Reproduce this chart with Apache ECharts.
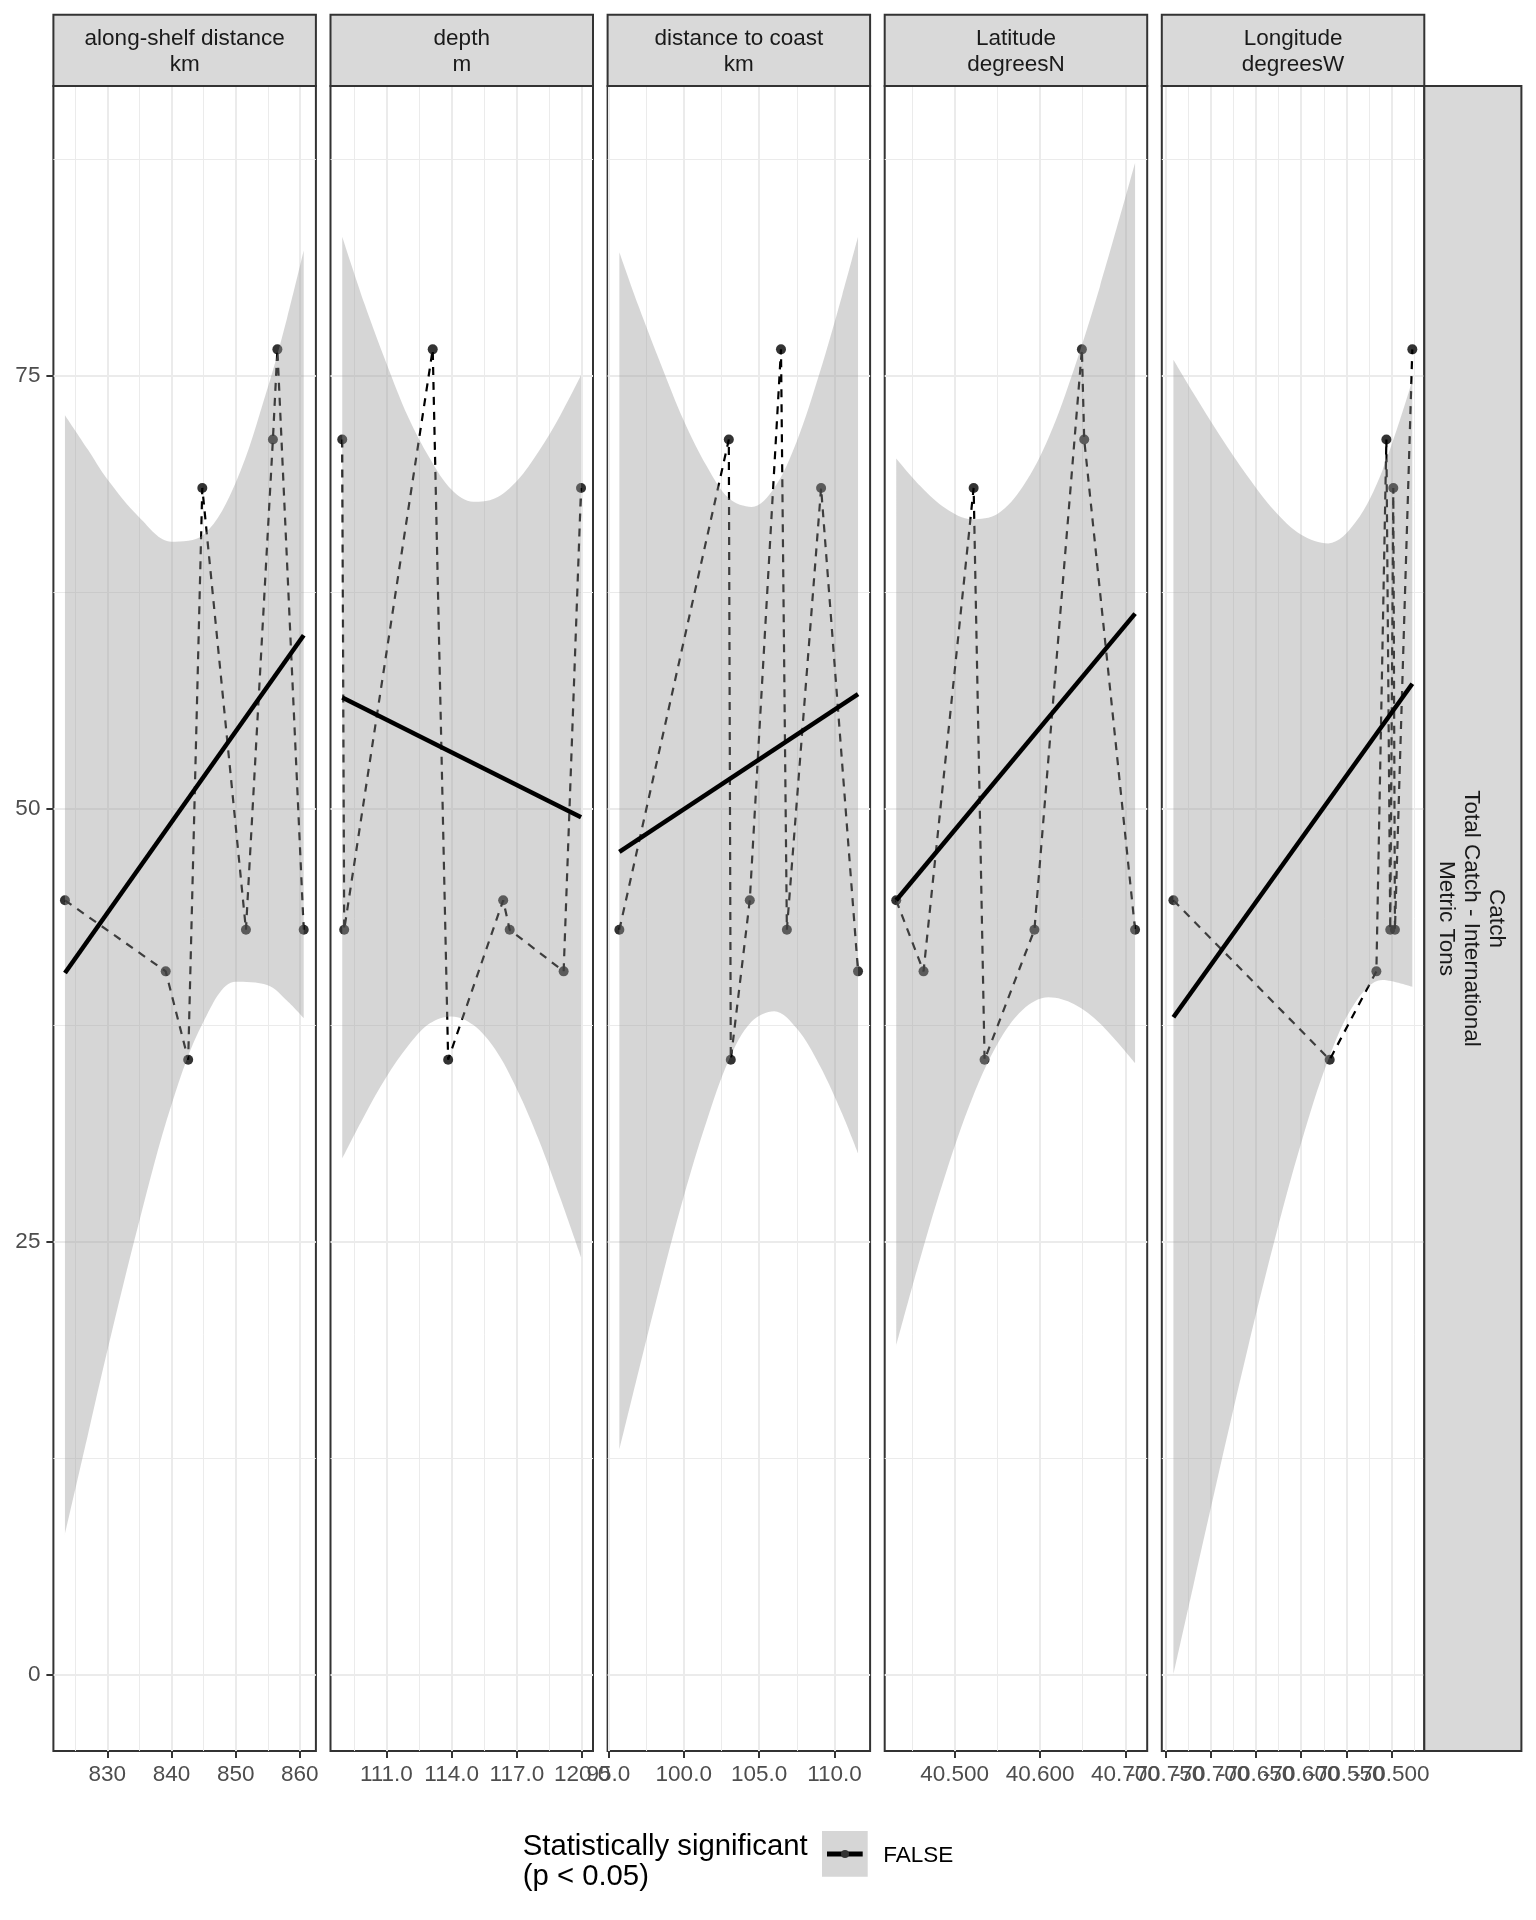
<!DOCTYPE html>
<html>
<head>
<meta charset="utf-8">
<script src="https://cdn.jsdelivr.net/npm/echarts@6/dist/echarts.min.js"></script>
<style>
html,body{margin:0;padding:0;background:#ffffff;}
#chart{width:1536px;height:1920px;}
</style>
</head>
<body>
<div id="chart"></div>
<script>
// ---------------- DATA ----------------
// Catch (metric tons) for each of the 8 observations
const catchTons    = [44.7, 40.6, 35.5, 68.5, 43.0, 71.3, 76.5, 43.0];
// Covariate values for the same observations
const alongShelfKm = [823.4, 839.1, 842.6, 844.8, 851.6, 855.8, 856.5, 860.6];
const depthM       = [116.37, 119.15, 113.84, 119.95, 109.06, 108.97, 113.13, 116.67];
const distCoastKm  = [104.38, 111.56, 103.12, 109.11, 95.73, 102.99, 106.45, 106.84];
const latitudeN    = [40.4315, 40.4635, 40.535, 40.5222, 40.5934, 40.6517, 40.649, 40.7113];
const longitudeW   = [-70.7419, -70.5166, -70.5684, -70.4978, -70.5012, -70.5055, -70.4767, -70.4960];

// Facet strip labels
const facetTitles = ['along-shelf distance\nkm', 'depth\nm', 'distance to coast\nkm', 'Latitude\ndegreesN', 'Longitude\ndegreesW'];
const rowStripLabel = 'Catch\nTotal Catch - International\nMetric Tons';
const legendTitle = 'Statistically significant\n(p < 0.05)';
const legendLabel = 'FALSE';

// Fitted linear trend (end points)
const fitAlong = [[823.4, 40.5], [860.6, 60.0]];
const fitDepth = [[108.97, 56.4], [119.95, 49.5]];
const fitDist  = [[95.73, 47.5], [111.56, 56.6]];
const fitLat   = [[40.4315, 44.7], [40.7113, 61.25]];
const fitLon   = [[-70.7419, 37.95], [-70.4767, 57.2]];

// Confidence ribbons (x, lower, upper)
const ribAlongX  = [823.4, 827, 830, 835, 840, 845, 850, 855, 858, 860.6];
const ribAlongLo = [8.1, 13.9, 18.7, 26.2, 32.9, 37.7, 40.0, 39.8, 38.9, 37.9];
const ribAlongHi = [72.7, 70.7, 69.0, 66.8, 65.4, 65.8, 68.8, 74.3, 78.3, 82.2];

const ribDepthX  = [108.97, 110, 111, 112, 113, 114, 115, 116, 117, 118, 119, 119.95];
const ribDepthLo = [29.8, 32.3, 34.5, 36.3, 37.6, 38.0, 37.5, 36.1, 33.8, 30.9, 27.5, 24.1];
const ribDepthHi = [83.0, 79.1, 75.7, 72.6, 70.2, 68.4, 67.7, 67.9, 68.9, 70.6, 72.7, 75.0];

const ribDistX  = [95.73, 97, 98.5, 100, 101.5, 103, 104.5, 106, 107.5, 109, 110.5, 111.56];
const ribDistLo = [13.0, 17.5, 22.7, 27.6, 31.9, 35.5, 37.7, 38.3, 37.3, 35.2, 32.4, 30.1];
const ribDistHi = [82.1, 79.0, 75.6, 72.4, 69.8, 67.9, 67.4, 68.5, 71.2, 75.1, 79.6, 83.0];

const ribLatX  = [40.4315, 40.46, 40.49, 40.52, 40.55, 40.58, 40.61, 40.64, 40.67, 40.7113];
const ribLatLo = [19.0, 24.1, 29.0, 33.2, 36.4, 38.4, 39.1, 38.7, 37.6, 35.3];
const ribLatHi = [70.2, 68.6, 67.3, 66.7, 67.0, 68.6, 71.4, 75.4, 80.1, 87.25];

const ribLonX  = [-70.7419, -70.72, -70.69, -70.66, -70.63, -70.6, -70.57, -70.54, -70.51, -70.4767];
const ribLonLo = [0.0, 5.1, 12.0, 18.7, 25.0, 30.7, 35.5, 38.8, 40.1, 39.7];
const ribLonHi = [75.9, 74.0, 71.5, 69.2, 67.2, 65.8, 65.3, 66.5, 69.5, 74.7];

// Ticks and tick labels
const yTicks = [0, 25, 50, 75];
const yTickLabels = ['0', '25', '50', '75'];
const yMinor = [12.5, 37.5, 62.5, 87.5];

const alongTicks = [830, 840, 850, 860];
const alongTickLabels = ['830', '840', '850', '860'];
const alongMinor = [825, 835, 845, 855];

const depthTicks = [111, 114, 117, 120];
const depthTickLabels = ['111.0', '114.0', '117.0', '120.0'];
const depthMinor = [109.5, 112.5, 115.5, 118.5];

const distTicks = [95, 100, 105, 110];
const distTickLabels = ['95.0', '100.0', '105.0', '110.0'];
const distMinor = [97.5, 102.5, 107.5];

const latTicks = [40.5, 40.6, 40.7];
const latTickLabels = ['40.500', '40.600', '40.700'];
const latMinor = [40.45, 40.55, 40.65];

const lonTicks = [-70.75, -70.7, -70.65, -70.6, -70.55, -70.5];
const lonTickLabels = ['-70.750', '-70.700', '-70.650', '-70.600', '-70.550', '-70.500'];
const lonMinor = [-70.725, -70.675, -70.625, -70.575, -70.525, -70.475];

// ---------------- LAYOUT / STYLE ----------------
const FONT = '"Liberation Sans", Arial, Helvetica, sans-serif';
const panelLeft = [53.4, 330.5, 607.6, 884.7, 1161.8];
const panelW = 262.5;
const panelTop = 86;
const panelH = 1665;
const stripTop = 14.7;
const yMin = -4.4, yMax = 91.7;
const xRanges = [[821.6, 862.5], [108.43, 120.5], [94.95, 112.36], [40.418, 40.7255], [-70.7548, -70.4634]];

const panels = [
  { x: alongShelfKm, fit: fitAlong, rx: ribAlongX, lo: ribAlongLo, hi: ribAlongHi, ticks: alongTicks, labels: alongTickLabels, minor: alongMinor },
  { x: depthM,       fit: fitDepth, rx: ribDepthX, lo: ribDepthLo, hi: ribDepthHi, ticks: depthTicks, labels: depthTickLabels, minor: depthMinor },
  { x: distCoastKm,  fit: fitDist,  rx: ribDistX,  lo: ribDistLo,  hi: ribDistHi,  ticks: distTicks,  labels: distTickLabels,  minor: distMinor },
  { x: latitudeN,    fit: fitLat,   rx: ribLatX,   lo: ribLatLo,   hi: ribLatHi,   ticks: latTicks,   labels: latTickLabels,   minor: latMinor },
  { x: longitudeW,   fit: fitLon,   rx: ribLonX,   lo: ribLonLo,   hi: ribLonHi,   ticks: lonTicks,   labels: lonTickLabels,   minor: lonMinor }
];

function labelFor(ticks, labels, v) {
  let best = 0, bd = Infinity;
  for (let k = 0; k < ticks.length; k++) {
    const d = Math.abs(ticks[k] - v);
    if (d < bd) { bd = d; best = k; }
  }
  return labels[best];
}

const grids = [], xAxes = [], yAxes = [], series = [];
const labelStyle = { color: '#4D4D4D', fontSize: 22.5, fontFamily: FONT };

panels.forEach((p, i) => {
  grids.push({
    left: panelLeft[i], top: panelTop, width: panelW, height: panelH,
    show: true, borderColor: '#333333', borderWidth: 2, backgroundColor: 'transparent',
    containLabel: false, outerBoundsMode: 'none'
  });
  const evenTicks = p.ticks.filter((t, k) => k % 2 === 0);
  const oddTicks = p.ticks.filter((t, k) => k % 2 === 1);
  const xBase = xAxes.length;
  // major x axis: ticks, grid lines, labels of even-indexed ticks
  xAxes.push({
    type: 'value', gridIndex: i, min: xRanges[i][0], max: xRanges[i][1], position: 'bottom',
    axisLine: { show: false, onZero: false },
    axisTick: { show: true, length: 7, lineStyle: { color: '#333333', width: 2 }, customValues: p.ticks },
    axisLabel: Object.assign({
      show: true, customValues: evenTicks, margin: 12, hideOverlap: false,
      formatter: (v) => labelFor(p.ticks, p.labels, v)
    }, labelStyle),
    splitLine: { show: true, lineStyle: { color: '#EBEBEB', width: 2 } }
  });
  // second bottom axis: labels of odd-indexed ticks (so overlapping labels are all kept)
  xAxes.push({
    type: 'value', gridIndex: i, min: xRanges[i][0], max: xRanges[i][1], position: 'bottom', offset: 0,
    axisLine: { show: false, onZero: false },
    axisTick: { show: false, customValues: oddTicks.length ? oddTicks : evenTicks },
    axisLabel: Object.assign({
      show: oddTicks.length > 0, customValues: oddTicks.length ? oddTicks : evenTicks, margin: 12, hideOverlap: false,
      formatter: (v) => labelFor(p.ticks, p.labels, v)
    }, labelStyle),
    splitLine: { show: false }
  });
  // minor x axis (grid lines only)
  xAxes.push({
    type: 'value', gridIndex: i, min: xRanges[i][0], max: xRanges[i][1], position: 'top',
    axisLine: { show: false, onZero: false },
    axisTick: { show: false, customValues: p.minor },
    axisLabel: { show: false, customValues: p.minor },
    splitLine: { show: true, lineStyle: { color: '#EBEBEB', width: 1 } }
  });
  const yBase = yAxes.length;
  // major y axis
  yAxes.push({
    type: 'value', gridIndex: i, min: yMin, max: yMax, position: 'left',
    axisLine: { show: false, onZero: false },
    axisTick: { show: i === 0, length: 7, lineStyle: { color: '#333333', width: 2 }, customValues: yTicks },
    axisLabel: Object.assign({
      show: i === 0, customValues: yTicks, margin: 13, padding: [6, 0, 0, 0], hideOverlap: false,
      formatter: (v) => labelFor(yTicks, yTickLabels, v)
    }, labelStyle),
    splitLine: { show: true, lineStyle: { color: '#EBEBEB', width: 2 } }
  });
  // minor y axis
  yAxes.push({
    type: 'value', gridIndex: i, min: yMin, max: yMax, position: 'right',
    axisLine: { show: false, onZero: false },
    axisTick: { show: false, customValues: yMinor },
    axisLabel: { show: false, customValues: yMinor },
    splitLine: { show: true, lineStyle: { color: '#EBEBEB', width: 1 } }
  });

  const xi = xBase, yi = yBase;
  const pts = p.x.map((xv, k) => [xv, catchTons[k]]).sort((a, b) => a[0] - b[0]);

  // dashed connecting line
  series.push({
    type: 'line', xAxisIndex: xi, yAxisIndex: yi, data: pts, symbol: 'none', silent: true,
    lineStyle: { color: '#000000', width: 2.2, type: [8, 7] }, z: 2
  });
  // points
  series.push({
    type: 'scatter', xAxisIndex: xi, yAxisIndex: yi, data: pts, symbol: 'circle', symbolSize: 10, silent: true,
    itemStyle: { color: '#000000' }, z: 2
  });
  // ribbon: lower bound (invisible) + band stacked on it
  series.push({
    type: 'line', xAxisIndex: xi, yAxisIndex: yi, stack: 'rib' + i, silent: true,
    data: p.rx.map((xv, k) => [p.lo[k], xv]), encode: { x: 1, y: 0 },
    symbol: 'none', smooth: 0.35,
    lineStyle: { width: 0, opacity: 0 }, z: 3
  });
  series.push({
    type: 'line', xAxisIndex: xi, yAxisIndex: yi, stack: 'rib' + i, silent: true,
    data: p.rx.map((xv, k) => [p.hi[k] - p.lo[k], xv]), encode: { x: 1, y: 0 },
    symbol: 'none', smooth: 0.35,
    lineStyle: { width: 0, opacity: 0 },
    areaStyle: { color: '#999999', opacity: 0.4 }, z: 3
  });
  // fitted line
  series.push({
    type: 'line', xAxisIndex: xi, yAxisIndex: yi, data: p.fit, symbol: 'none', silent: true,
    lineStyle: { color: '#000000', width: 4.5, cap: 'butt' }, z: 4
  });
});

// strips & legend as graphic elements
const graphics = [];
panelLeft.forEach((l, i) => {
  graphics.push({
    type: 'rect', silent: true, z: 10,
    shape: { x: l, y: stripTop, width: panelW, height: panelTop - stripTop },
    style: { fill: '#D9D9D9', stroke: '#333333', lineWidth: 2 }
  });
  graphics.push({
    type: 'text', silent: true, z: 11, x: l + panelW / 2, y: 52,
    style: { text: facetTitles[i], fontSize: 22.5, fontFamily: FONT, fill: '#1A1A1A',
             align: 'center', verticalAlign: 'middle', lineHeight: 26 }
  });
});
const rsX = panelLeft[4] + panelW;
graphics.push({
  type: 'rect', silent: true, z: 10,
  shape: { x: rsX, y: panelTop, width: 1521.4 - rsX, height: panelH },
  style: { fill: '#D9D9D9', stroke: '#333333', lineWidth: 2 }
});
graphics.push({
  type: 'text', silent: true, z: 11, x: (rsX + 1521.4) / 2 - 2, y: panelTop + panelH / 2,
  rotation: -Math.PI / 2,
  style: { text: rowStripLabel, fontSize: 22.5, fontFamily: FONT, fill: '#1A1A1A',
           align: 'center', verticalAlign: 'middle', lineHeight: 25 }
});
// legend
graphics.push({
  type: 'text', silent: true, z: 11, x: 522.7, y: 1832,
  style: { text: legendTitle, fontSize: 29.3, fontFamily: FONT, fill: '#000000',
           align: 'left', verticalAlign: 'top', lineHeight: 30 }
});
graphics.push({
  type: 'rect', silent: true, z: 10,
  shape: { x: 822, y: 1831, width: 45.7, height: 45.7 },
  style: { fill: '#D6D6D6' }
});
graphics.push({
  type: 'line', silent: true, z: 11,
  shape: { x1: 827, y1: 1854, x2: 862.7, y2: 1854 },
  style: { stroke: '#000000', lineWidth: 5 }
});
graphics.push({
  type: 'circle', silent: true, z: 12,
  shape: { cx: 845, cy: 1854, r: 4 },
  style: { fill: '#333333' }
});
graphics.push({
  type: 'text', silent: true, z: 11, x: 883.3, y: 1856,
  style: { text: legendLabel, fontSize: 22.5, fontFamily: FONT, fill: '#000000',
           align: 'left', verticalAlign: 'middle' }
});

const chart = echarts.init(document.getElementById('chart'), null, { renderer: 'canvas' });
chart.setOption({
  animation: false,
  backgroundColor: '#ffffff',
  grid: grids,
  xAxis: xAxes,
  yAxis: yAxes,
  series: series,
  graphic: { elements: graphics }
});
</script>
</body>
</html>
